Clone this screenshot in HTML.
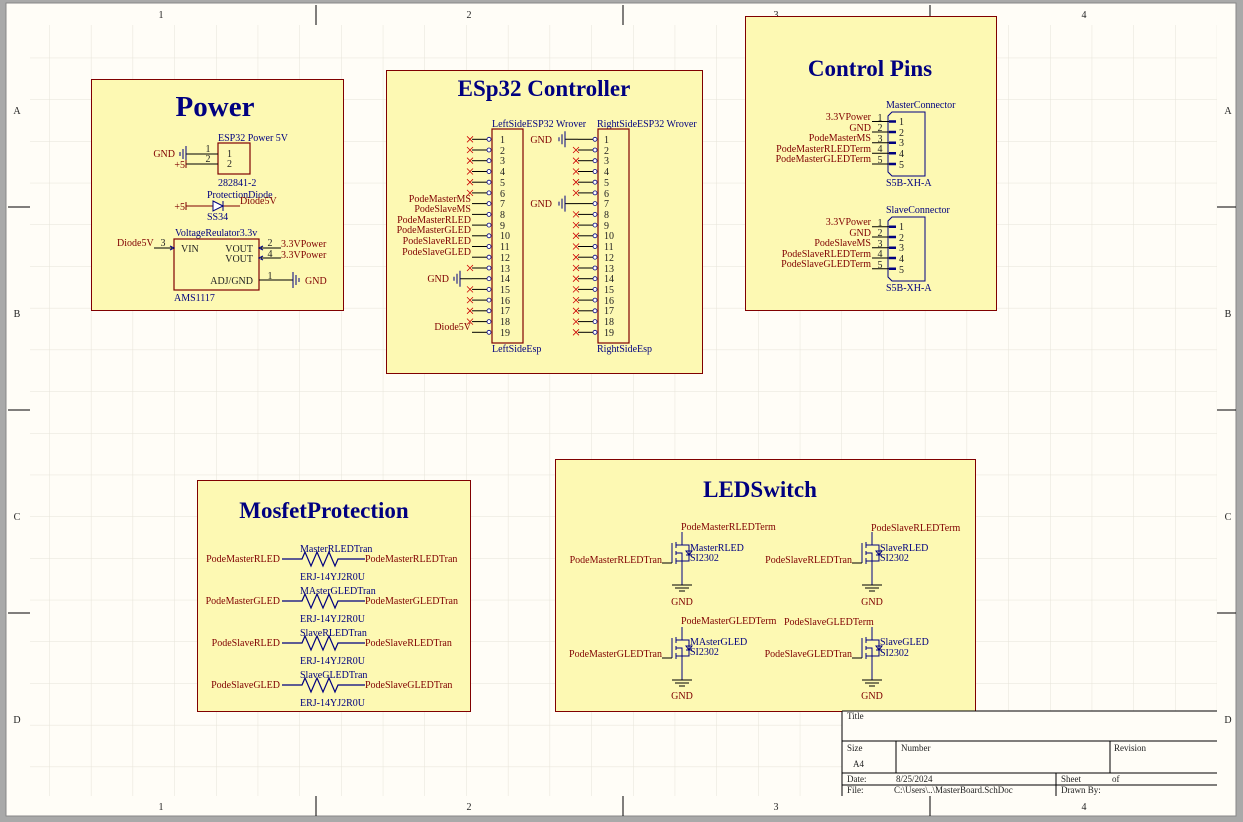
<!DOCTYPE html>
<html><head><meta charset="utf-8"><style>
html,body{margin:0;padding:0;background:#a9a9a9;width:1243px;height:822px;overflow:hidden}
svg{display:block}
text{font-family:"Liberation Serif",serif;font-size:10px}
.r{fill:#800000}.b{fill:#000080}.k{fill:#222}
.e{text-anchor:end}.m{text-anchor:middle}
.t{font-weight:bold;fill:#000080;text-anchor:middle}
.w{stroke:#000080;stroke-width:1;fill:none}
.bx{fill:#fdf9b3;stroke:#800000;stroke-width:1}
.cp{fill:none;stroke:#800000;stroke-width:1.2}
</style></head><body>
<svg width="1243" height="822" viewBox="0 0 1243 822" xmlns="http://www.w3.org/2000/svg">
<defs>
<pattern id="g" x="7.5" y="16" width="41.7" height="41.7" patternUnits="userSpaceOnUse">
<path d="M0 0V41.7M0 0H41.7" stroke="#e6e3d8" stroke-width="1" fill="none"/>
</pattern>
<g id="gl"><path d="M0 -8V8M-3 -5V5M-6 -2V2" stroke="#000080" stroke-width="1"/></g>
<g id="nc"><path d="M-3 -3L3 3M-3 3L3 -3" stroke="#c00" stroke-width="0.8"/></g>
<g id="lp"><path d="M0 0H15" stroke="#000" stroke-width="1"/><circle cx="17" cy="0" r="2" fill="#fff" stroke="#000080" stroke-width="0.8"/></g>
<g id="mos" stroke="#000080" stroke-width="1" fill="none">
<path d="M0 -21V-8H-6M-6 8H0V32M-10 -10V10M-6 -11V-5M-6 -2V2M-6 5V11M-6 0H0V8M0 -8H7V8H0M4 2H10M7 2L4 -2H10Z"/>
<path d="M-20 10H-10" stroke="#000"/>
<path d="M-10 32H10M-7 35H7M-3 38H3" stroke="#000"/>
</g>
<g id="res"><path d="M0 0H20L23 -7L29 7L35 -7L41 7L47 -7L53 7L56 0H63H83" stroke="#000080" stroke-width="1.2" fill="none"/></g>
</defs>
<rect x="6" y="3" width="1230" height="813" fill="#fffdf7" stroke="#888"/>
<rect x="30" y="25" width="1187" height="771" fill="url(#g)"/>
<g stroke="#000" stroke-width="1">
<path d="M316 5V25M623 5V25M930 5V25M316 796V816M623 796V816M930 796V816"/>
<path d="M8 207H30M8 410H30M8 613H30M1217 207H1236M1217 410H1236M1217 613H1236"/>
</g>
<g class="k">
<text x="161" y="18" class="m">1</text><text x="469" y="18" class="m">2</text><text x="776" y="18" class="m">3</text><text x="1084" y="18" class="m">4</text>
<text x="161" y="810" class="m">1</text><text x="469" y="810" class="m">2</text><text x="776" y="810" class="m">3</text><text x="1084" y="810" class="m">4</text>
<text x="17" y="114" class="m">A</text><text x="17" y="317" class="m">B</text><text x="17" y="520" class="m">C</text><text x="17" y="723" class="m">D</text>
<text x="1228" y="114" class="m">A</text><text x="1228" y="317" class="m">B</text><text x="1228" y="520" class="m">C</text><text x="1228" y="723" class="m">D</text>
</g>

<!-- POWER -->
<rect class="bx" x="91.5" y="79.5" width="252" height="231"/>
<text x="215" y="116" class="t" style="font-size:29px">Power</text>
<text x="218" y="141" class="b">ESP32 Power 5V</text>
<rect class="cp" x="218" y="143" width="32" height="31"/>
<path d="M186 154H218M186 164H218" stroke="#000" fill="none"/>
<use href="#gl" x="186" y="154"/>
<path d="M186 160V168" stroke="#800000"/>
<text x="208" y="152" class="k m">1</text><text x="208" y="162" class="k m">2</text>
<text x="227" y="157" class="k">1</text><text x="227" y="167" class="k">2</text>
<text x="175" y="157" class="r e">GND</text><text x="185" y="168" class="r e">+5</text>
<text x="218" y="186" class="b">282841-2</text>
<text x="207" y="198" class="b">ProtectionDiode</text>
<path d="M186 202V210M186 206H240" stroke="#800000" fill="none"/>
<path d="M213 201L223 206L213 211ZM223 201V211" stroke="#000080" fill="#fff"/>
<text x="185" y="210" class="r e">+5</text>
<text x="240" y="204" class="r">Diode5V</text>
<text x="207" y="220" class="b">SS34</text>
<text x="175" y="236" class="b">VoltageReulator3.3v</text>
<rect class="cp" x="174" y="239" width="85" height="51"/>
<path d="M154 248H172M261 248H281M261 258H281M259 280H293" stroke="#000" fill="none"/>
<path d="M170 246L174 248L170 250M263 246L259 248L263 250M263 256L259 258L263 260" stroke="#000080" fill="none"/>
<path d="M293 272V288M296 275V285M299 278V282" stroke="#000080"/>
<text x="117" y="246" class="r">Diode5V</text><text x="163" y="246" class="k m">3</text>
<text x="181" y="252" class="k">VIN</text>
<text x="253" y="252" class="k e">VOUT</text><text x="253" y="262" class="k e">VOUT</text>
<text x="270" y="246" class="k m">2</text><text x="270" y="257" class="k m">4</text>
<text x="281" y="247" class="r">3.3VPower</text><text x="281" y="258" class="r">3.3VPower</text>
<text x="253" y="284" class="k e">ADJ/GND</text><text x="270" y="279" class="k m">1</text>
<text x="305" y="284" class="r">GND</text>
<text x="174" y="301" class="b">AMS1117</text>

<!-- ESP32 -->
<rect class="bx" x="386.5" y="70.5" width="316" height="303"/>
<text x="544" y="96" class="t" style="font-size:23px">ESp32 Controller</text>
<text x="492" y="127" class="b">LeftSideESP32 Wrover</text>
<text x="597" y="127" class="b">RightSideESP32 Wrover</text>
<rect class="cp" x="492" y="129" width="31" height="214"/>
<rect class="cp" x="598" y="129" width="31" height="214"/>
<text x="492" y="352" class="b">LeftSideEsp</text>
<text x="597" y="352" class="b">RightSideEsp</text>
<g>
<use href="#lp" x="472" y="139.3"/><use href="#lp" x="472" y="150"/><use href="#lp" x="472" y="160.7"/><use href="#lp" x="472" y="171.5"/><use href="#lp" x="472" y="182.2"/><use href="#lp" x="472" y="192.9"/><use href="#lp" x="472" y="203.6"/><use href="#lp" x="472" y="214.4"/><use href="#lp" x="472" y="225.1"/><use href="#lp" x="472" y="235.8"/><use href="#lp" x="472" y="246.5"/><use href="#lp" x="472" y="257.2"/><use href="#lp" x="472" y="268"/><use href="#lp" x="472" y="278.7"/><use href="#lp" x="472" y="289.4"/><use href="#lp" x="472" y="300.1"/><use href="#lp" x="472" y="310.8"/><use href="#lp" x="472" y="321.6"/><use href="#lp" x="472" y="332.3"/>
<use href="#lp" x="578" y="139.3"/><use href="#lp" x="578" y="150"/><use href="#lp" x="578" y="160.7"/><use href="#lp" x="578" y="171.5"/><use href="#lp" x="578" y="182.2"/><use href="#lp" x="578" y="192.9"/><use href="#lp" x="578" y="203.6"/><use href="#lp" x="578" y="214.4"/><use href="#lp" x="578" y="225.1"/><use href="#lp" x="578" y="235.8"/><use href="#lp" x="578" y="246.5"/><use href="#lp" x="578" y="257.2"/><use href="#lp" x="578" y="268"/><use href="#lp" x="578" y="278.7"/><use href="#lp" x="578" y="289.4"/><use href="#lp" x="578" y="300.1"/><use href="#lp" x="578" y="310.8"/><use href="#lp" x="578" y="321.6"/><use href="#lp" x="578" y="332.3"/>
<use href="#nc" x="470" y="139.3"/><use href="#nc" x="470" y="150"/><use href="#nc" x="470" y="160.7"/><use href="#nc" x="470" y="171.5"/><use href="#nc" x="470" y="182.2"/><use href="#nc" x="470" y="192.9"/><use href="#nc" x="470" y="268"/><use href="#nc" x="470" y="289.4"/><use href="#nc" x="470" y="300.1"/><use href="#nc" x="470" y="310.8"/><use href="#nc" x="470" y="321.6"/>
<use href="#nc" x="576" y="150"/><use href="#nc" x="576" y="160.7"/><use href="#nc" x="576" y="171.5"/><use href="#nc" x="576" y="182.2"/><use href="#nc" x="576" y="192.9"/><use href="#nc" x="576" y="214.4"/><use href="#nc" x="576" y="225.1"/><use href="#nc" x="576" y="235.8"/><use href="#nc" x="576" y="246.5"/><use href="#nc" x="576" y="257.2"/><use href="#nc" x="576" y="268"/><use href="#nc" x="576" y="278.7"/><use href="#nc" x="576" y="289.4"/><use href="#nc" x="576" y="300.1"/><use href="#nc" x="576" y="310.8"/><use href="#nc" x="576" y="321.6"/><use href="#nc" x="576" y="332.3"/>
</g>
<g class="k">
<text x="500" y="143">1</text><text x="500" y="154">2</text><text x="500" y="164">3</text><text x="500" y="175">4</text><text x="500" y="186">5</text><text x="500" y="197">6</text><text x="500" y="207">7</text><text x="500" y="218">8</text><text x="500" y="229">9</text><text x="500" y="239">10</text><text x="500" y="250">11</text><text x="500" y="261">12</text><text x="500" y="272">13</text><text x="500" y="282">14</text><text x="500" y="293">15</text><text x="500" y="304">16</text><text x="500" y="314">17</text><text x="500" y="325">18</text><text x="500" y="336">19</text>
<text x="604" y="143">1</text><text x="604" y="154">2</text><text x="604" y="164">3</text><text x="604" y="175">4</text><text x="604" y="186">5</text><text x="604" y="197">6</text><text x="604" y="207">7</text><text x="604" y="218">8</text><text x="604" y="229">9</text><text x="604" y="239">10</text><text x="604" y="250">11</text><text x="604" y="261">12</text><text x="604" y="272">13</text><text x="604" y="282">14</text><text x="604" y="293">15</text><text x="604" y="304">16</text><text x="604" y="314">17</text><text x="604" y="325">18</text><text x="604" y="336">19</text>
</g>
<g class="r e">
<text x="471" y="202">PodeMasterMS</text><text x="471" y="212">PodeSlaveMS</text><text x="471" y="223">PodeMasterRLED</text><text x="471" y="233">PodeMasterGLED</text><text x="471" y="244">PodeSlaveRLED</text><text x="471" y="255">PodeSlaveGLED</text><text x="471" y="330">Diode5V</text>
<text x="449" y="282">GND</text><text x="552" y="143">GND</text><text x="552" y="207">GND</text>
</g>
<path d="M460 278.7H472M565 139.3H578M565 203.6H578" stroke="#000"/>
<use href="#gl" x="460" y="278.7"/>
<use href="#gl" x="565" y="139.3"/>
<use href="#gl" x="565" y="203.6"/>

<!-- CONTROL PINS -->
<rect class="bx" x="745.5" y="16.5" width="251" height="294"/>
<text x="870" y="76" class="t" style="font-size:23px">Control Pins</text>
<text x="886" y="108" class="b">MasterConnector</text>
<path d="M892 112H925V176H892L888 172V116Z" fill="none" stroke="#000080"/>
<path d="M872 121.5H895M872 132H895M872 142.7H895M872 153.3H895M872 164H895" stroke="#000"/>
<path d="M889 121.5H896M889 132H896M889 142.7H896M889 153.3H896M889 164H896" stroke="#000080" stroke-width="2.5"/>
<g class="k">
<text x="880" y="121" class="m">1</text><text x="880" y="131" class="m">2</text><text x="880" y="142" class="m">3</text><text x="880" y="152" class="m">4</text><text x="880" y="163" class="m">5</text>
<text x="899" y="125">1</text><text x="899" y="136">2</text><text x="899" y="146">3</text><text x="899" y="157">4</text><text x="899" y="168">5</text>
</g>
<g class="r e"><text x="871" y="120">3.3VPower</text><text x="871" y="131">GND</text><text x="871" y="141">PodeMasterMS</text><text x="871" y="152">PodeMasterRLEDTerm</text><text x="871" y="162">PodeMasterGLEDTerm</text></g>
<text x="886" y="186" class="b">S5B-XH-A</text>
<text x="886" y="213" class="b">SlaveConnector</text>
<path d="M892 217H925V281H892L888 277V221Z" fill="none" stroke="#000080"/>
<path d="M872 226.7H895M872 237H895M872 247.7H895M872 258H895M872 268.7H895" stroke="#000"/>
<path d="M889 226.7H896M889 237H896M889 247.7H896M889 258H896M889 268.7H896" stroke="#000080" stroke-width="2.5"/>
<g class="k">
<text x="880" y="226" class="m">1</text><text x="880" y="236" class="m">2</text><text x="880" y="247" class="m">3</text><text x="880" y="257" class="m">4</text><text x="880" y="268" class="m">5</text>
<text x="899" y="230">1</text><text x="899" y="241">2</text><text x="899" y="251">3</text><text x="899" y="262">4</text><text x="899" y="273">5</text>
</g>
<g class="r e"><text x="871" y="225">3.3VPower</text><text x="871" y="236">GND</text><text x="871" y="246">PodeSlaveMS</text><text x="871" y="257">PodeSlaveRLEDTerm</text><text x="871" y="267">PodeSlaveGLEDTerm</text></g>
<text x="886" y="291" class="b">S5B-XH-A</text>

<!-- MOSFET PROTECTION -->
<rect class="bx" x="197.5" y="480.5" width="273" height="231"/>
<text x="324" y="518" class="t" style="font-size:23px">MosfetProtection</text>
<use href="#res" x="282" y="559"/><use href="#res" x="282" y="601"/><use href="#res" x="282" y="643"/><use href="#res" x="282" y="685"/>
<g class="r">
<text x="280" y="562" class="e">PodeMasterRLED</text><text x="365" y="562">PodeMasterRLEDTran</text>
<text x="280" y="604" class="e">PodeMasterGLED</text><text x="365" y="604">PodeMasterGLEDTran</text>
<text x="280" y="646" class="e">PodeSlaveRLED</text><text x="365" y="646">PodeSlaveRLEDTran</text>
<text x="280" y="688" class="e">PodeSlaveGLED</text><text x="365" y="688">PodeSlaveGLEDTran</text>
</g>
<g class="b">
<text x="300" y="552">MasterRLEDTran</text><text x="300" y="580">ERJ-14YJ2R0U</text>
<text x="300" y="594">MAsterGLEDTran</text><text x="300" y="622">ERJ-14YJ2R0U</text>
<text x="300" y="636">SlaveRLEDTran</text><text x="300" y="664">ERJ-14YJ2R0U</text>
<text x="300" y="678">SlaveGLEDTran</text><text x="300" y="706">ERJ-14YJ2R0U</text>
</g>

<!-- LED SWITCH -->
<rect class="bx" x="555.5" y="459.5" width="420" height="252"/>
<text x="760" y="497" class="t" style="font-size:23px">LEDSwitch</text>
<use href="#mos" x="682" y="553"/><use href="#mos" x="872" y="553"/><use href="#mos" x="682" y="648"/><use href="#mos" x="872" y="648"/>
<g class="r">
<text x="681" y="530">PodeMasterRLEDTerm</text><text x="871" y="531">PodeSlaveRLEDTerm</text>
<text x="681" y="624">PodeMasterGLEDTerm</text><text x="784" y="625">PodeSlaveGLEDTerm</text>
<text x="662" y="563" class="e">PodeMasterRLEDTran</text><text x="852" y="563" class="e">PodeSlaveRLEDTran</text>
<text x="662" y="657" class="e">PodeMasterGLEDTran</text><text x="852" y="657" class="e">PodeSlaveGLEDTran</text>
<text x="682" y="605" class="m">GND</text><text x="872" y="605" class="m">GND</text>
<text x="682" y="699" class="m">GND</text><text x="872" y="699" class="m">GND</text>
</g>
<g class="b">
<text x="690" y="551">MasterRLED</text><text x="690" y="561">SI2302</text>
<text x="880" y="551">SlaveRLED</text><text x="880" y="561">SI2302</text>
<text x="690" y="645">MAsterGLED</text><text x="690" y="655">SI2302</text>
<text x="880" y="645">SlaveGLED</text><text x="880" y="656">SI2302</text>
</g>

<!-- TITLE BLOCK -->
<rect x="842" y="711" width="375" height="85" fill="#fffdf7"/>
<g stroke="#000" stroke-width="1" fill="none">
<path d="M842 711H1217M842 741H1217M842 773H1217M842 785H1217M842 711V796M896 741V773M1110 741V773M1056 773V796"/>
</g>
<g class="k">
<text x="847" y="719" style="font-size:9px">Title</text>
<text x="847" y="751" style="font-size:9px">Size</text><text x="853" y="767" style="font-size:9px">A4</text>
<text x="901" y="751" style="font-size:9px">Number</text><text x="1114" y="751" style="font-size:9px">Revision</text>
<text x="847" y="782" style="font-size:9px">Date:</text><text x="896" y="782" style="font-size:9px">8/25/2024</text>
<text x="1061" y="782" style="font-size:9px">Sheet</text><text x="1112" y="782" style="font-size:9px">of</text>
<text x="847" y="793" style="font-size:9px">File:</text><text x="894" y="793" style="font-size:9px">C:\Users\..\MasterBoard.SchDoc</text>
<text x="1061" y="793" style="font-size:9px">Drawn By:</text>
</g>
</svg>
</body></html>
